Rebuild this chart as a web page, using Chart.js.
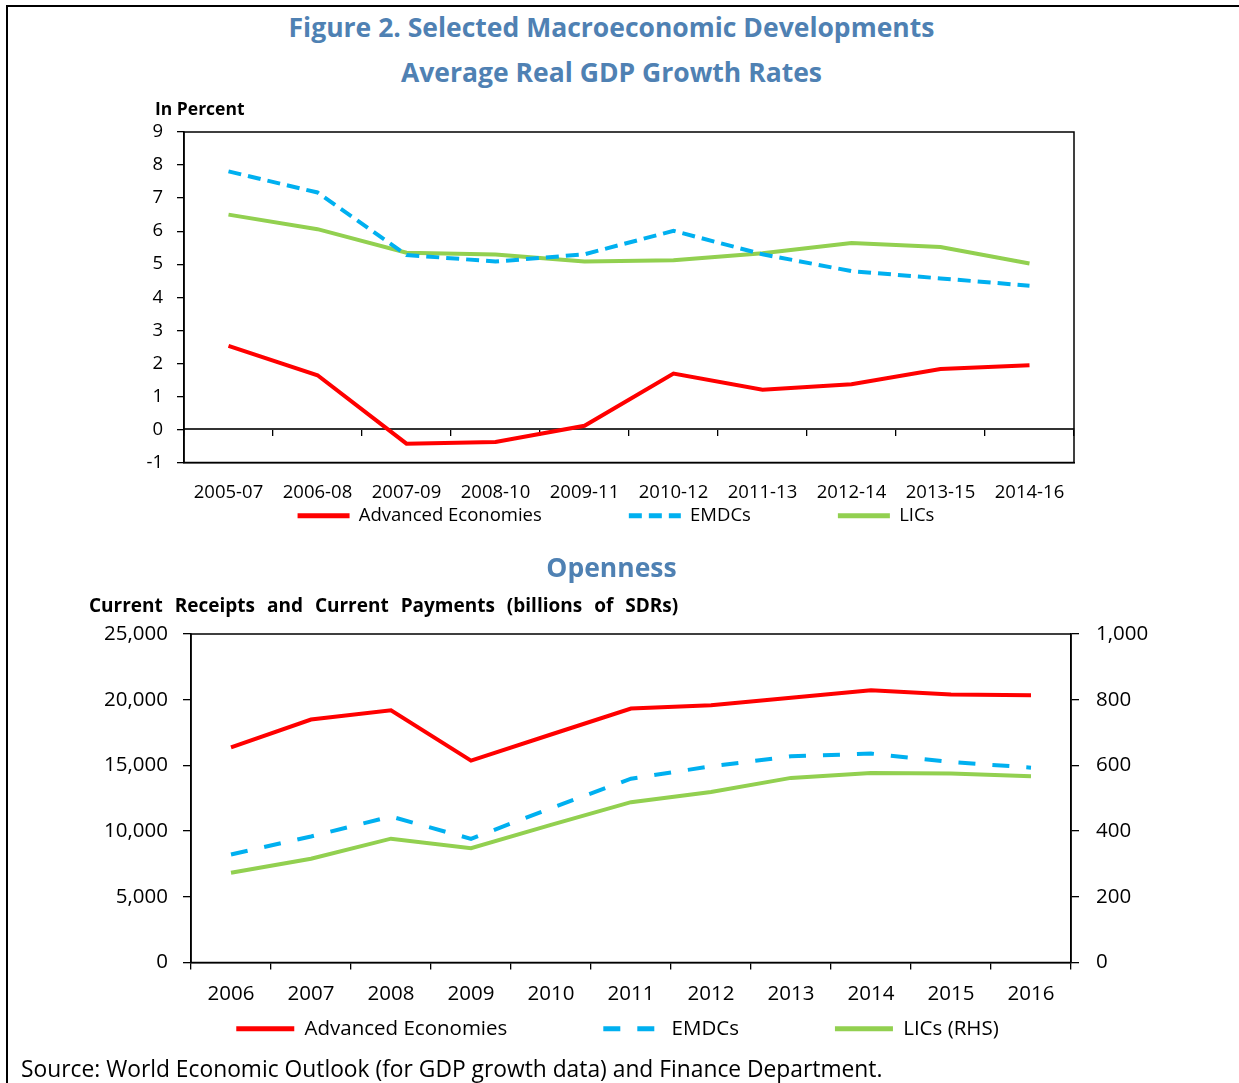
<!DOCTYPE html>
<html><head><meta charset="utf-8">
<script src="https://cdn.jsdelivr.net/npm/chart.js@4.4.1/dist/chart.umd.min.js"></script>
<style>
html,body{margin:0;padding:0;width:1239px;height:1083px;overflow:hidden;background:#fff;font-family:'Open Sans','Noto Sans',sans-serif;}
.t{position:absolute;white-space:nowrap;z-index:5;}
.blue{color:#4f81b3;font-weight:700;font-size:26.5px;line-height:32px;left:0;width:1223px;text-align:center;}
.bl{color:#000;font-weight:700;}
#bTop{position:absolute;left:6px;top:5px;width:1233px;height:2px;background:#000}
#bLeft{position:absolute;left:6px;top:5px;width:2px;height:1078px;background:#000}
.cw{position:absolute;}
</style></head><body>
<div id="bTop"></div><div id="bLeft"></div>
<div class="cw" style="left:100px;top:100px;width:1040px;height:522px;"><canvas id="c1" width="1040" height="522"></canvas></div>
<div class="cw" style="left:100px;top:600px;width:1060px;height:545px;"><canvas id="c2" width="1060" height="545"></canvas></div>
<div class="t blue" style="top:11px;">Figure 2. Selected Macroeconomic Developments</div>
<div class="t blue" style="top:56px;">Average Real GDP Growth Rates</div>
<div class="t bl" style="left:155px;top:97px;font-size:17.5px;line-height:22px;">In Percent</div>
<div class="t blue" style="top:551px;">Openness</div>
<div class="t bl" style="left:89px;top:593px;font-size:19px;line-height:24px;word-spacing:7px;">Current Receipts and Current Payments (billions of SDRs)</div>
<div class="t" style="left:21px;top:1055px;font-size:22.8px;line-height:28px;color:#000;">Source: World Economic Outlook (for GDP growth data) and Finance Department.</div>
<script>
// ---- Data: GDP growth (3-year averages, percent)
const periods = ['2005-07','2006-08','2007-09','2008-10','2009-11','2010-12','2011-13','2012-14','2013-15','2014-16'];
const gdpAdvanced = [2.53, 1.64, -0.43, -0.38, 0.11, 1.69, 1.20, 1.37, 1.83, 1.94];
const gdpEMDCs    = [7.81, 7.17, 5.28, 5.08, 5.30, 6.01, 5.30, 4.79, 4.57, 4.35];
const gdpLICs     = [6.50, 6.06, 5.35, 5.29, 5.08, 5.12, 5.33, 5.64, 5.52, 5.02];
const gdpTicks = {min: -1, max: 9, step: 1};

// ---- Data: Openness (billions of SDRs)
const years = ['2006','2007','2008','2009','2010','2011','2012','2013','2014','2015','2016'];
const openAdvanced = [16380, 18490, 19200, 15360, 17350, 19330, 19580, 20140, 20720, 20400, 20340];
const openEMDCs    = [8220, 9590, 11110, 9410, 11750, 13990, 14930, 15690, 15900, 15260, 14830];
const openLICsRHS  = [273, 316, 377, 348, 419, 488, 519, 562, 577, 575, 567];
const leftTicks = {min: 0, max: 25000, step: 5000};
const rightTicks = {min: 0, max: 1000, step: 200};

const FONT = "'Open Sans','Noto Sans',sans-serif";
const RED = '#ff0000', BLUE = '#00b0f0', GREEN = '#92d050';

const framePlugin = {
  id: 'frame',
  afterDraw(chart) {
    const {ctx, chartArea: a} = chart;
    ctx.save();
    ctx.strokeStyle = '#000';
    ctx.lineWidth = 1.5;
    ctx.strokeRect(a.left, a.top, a.right - a.left, a.bottom - a.top);
    ctx.restore();
  }
};
const legendShift = {
  id: 'legendShift',
  afterLayout(chart, args, opts) {
    const lg = chart.legend;
    if (!lg) return;
    const p = lg.options.labels.padding;
    const dx = (opts && opts.dx) || 0;
    lg.top -= p; lg.bottom -= p;
    lg.left += dx; lg.right += dx;
  }
};
function legendOpts(size, boxW, pad) {
  return {
    display: true, position: 'bottom', align: 'center',
    labels: {
      usePointStyle: true, pointStyle: 'line', pointStyleWidth: boxW, boxHeight: size,
      padding: pad, color: '#000', font: {family: FONT, size: size},
      generateLabels(chart) {
        const items = Chart.defaults.plugins.legend.labels.generateLabels(chart);
        items.forEach(it => {
          const ds = chart.data.datasets[it.datasetIndex];
          it.lineDash = ds.borderDash || [];
          it.lineWidth = ds.borderWidth + 1;
          it.strokeStyle = ds.borderColor;
          it.pointStyle = 'line';
          it.lineCap = 'butt';
        });
        return items;
      }
    }
  };
}
function line(label, data, color, dash, yAxisID) {
  return {label, data, borderColor: color, backgroundColor: color, borderWidth: 4,
    borderDash: dash, borderCapStyle: 'butt', pointRadius: 0, pointHoverRadius: 0,
    tension: 0, fill: false, xAxisID: 'x', yAxisID: yAxisID};
}

new Chart(document.getElementById('c1'), {
  type: 'line',
  data: {
    labels: periods,
    datasets: [
      line('Advanced Economies', gdpAdvanced, RED, [], 'y'),
      line('EMDCs', gdpEMDCs, BLUE, [13, 7], 'y'),
      line('LICs', gdpLICs, GREEN, [], 'y')
    ]
  },
  options: {
    responsive: false, animation: false, devicePixelRatio: 1, locale: 'en-US',
    layout: {padding: {top: 32, left: 0, right: 66, bottom: 0}},
    plugins: {legend: legendOpts(18.5, 52, 87), legendShift: {dx: 29}, tooltip: {enabled: false}, title: {display: false}},
    scales: {
      x: {type: 'category', position: 'bottom', offset: true,
        grid: {display: true, drawOnChartArea: false, drawTicks: false, offset: true},
        border: {display: true, color: '#000', width: 1.5},
        ticks: {color: '#000', font: {family: FONT, size: 18.5}, padding: 19, autoSkip: false, maxRotation: 0},
        afterFit(s) { s.height = 44; }},
      xz: {type: 'category', axis: 'x', position: {y: 0}, offset: true,
        grid: {display: true, drawOnChartArea: false, drawTicks: true, tickLength: 6, offset: true, color: '#000', lineWidth: 1.3},
        border: {display: true, color: '#333', width: 2},
        ticks: {display: false}},
      y: {type: 'linear', position: 'left', min: gdpTicks.min, max: gdpTicks.max,
        ticks: {stepSize: gdpTicks.step, color: '#000', font: {family: FONT, size: 18.5}, padding: 14},
        grid: {drawOnChartArea: false, drawTicks: true, tickLength: 7, color: '#000', lineWidth: 1.3},
        border: {display: true, color: '#000', width: 1.5},
        afterFit(s) { s.width = 84; }}
    }
  },
  plugins: [framePlugin, legendShift]
});

new Chart(document.getElementById('c2'), {
  type: 'line',
  data: {
    labels: years,
    datasets: [
      line('Advanced Economies', openAdvanced, RED, [], 'y'),
      line('EMDCs', openEMDCs, BLUE, [17, 17], 'y'),
      line('LICs (RHS)', openLICsRHS, GREEN, [], 'y2')
    ]
  },
  options: {
    responsive: false, animation: false, devicePixelRatio: 1, locale: 'en-US',
    layout: {padding: {top: 34, left: 0, right: 9, bottom: 0}},
    plugins: {legend: legendOpts(20.5, 58, 96), legendShift: {dx: -8}, tooltip: {enabled: false}, title: {display: false}},
    scales: {
      x: {type: 'category', position: 'bottom', offset: true,
        grid: {display: true, drawOnChartArea: false, drawTicks: true, tickLength: 7, offset: true, color: '#000', lineWidth: 1.3},
        border: {display: true, color: '#000', width: 1.5},
        ticks: {color: '#000', font: {family: FONT, size: 20.5}, padding: 12, autoSkip: false, maxRotation: 0},
        afterFit(s) { s.height = 56; }},
      y: {type: 'linear', position: 'left', min: leftTicks.min, max: leftTicks.max,
        ticks: {stepSize: leftTicks.step, color: '#000', font: {family: FONT, size: 20.5}, padding: 15},
        grid: {drawOnChartArea: false, drawTicks: true, tickLength: 8, color: '#000', lineWidth: 1.3},
        border: {display: true, color: '#000', width: 1.5},
        afterFit(s) { s.width = 91; }},
      y2: {type: 'linear', position: 'right', min: rightTicks.min, max: rightTicks.max,
        ticks: {stepSize: rightTicks.step, color: '#000', font: {family: FONT, size: 20.5}, padding: 17},
        grid: {drawOnChartArea: false, drawTicks: true, tickLength: 8, color: '#000', lineWidth: 1.3},
        border: {display: true, color: '#000', width: 1.5},
        afterFit(s) { s.width = 80; }}
    }
  },
  plugins: [framePlugin, legendShift]
});
</script>
</body></html>
